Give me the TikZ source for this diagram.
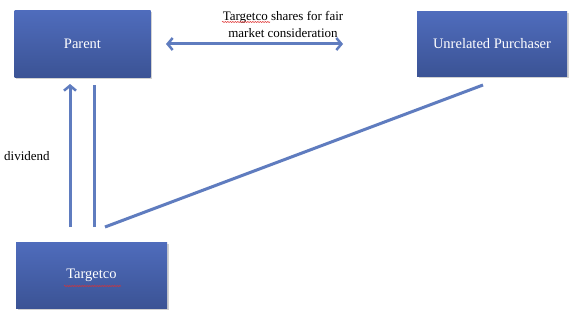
\documentclass[tikz,border=0pt]{standalone}
\usepackage{fontspec}
\setmainfont{Liberation Serif}
\usetikzlibrary{arrows.meta,shadows,decorations.pathmorphing}
\definecolor{boxtop}{HTML}{4F6CBC}
\definecolor{boxbot}{HTML}{3B5395}
\definecolor{arrowc}{HTML}{5F7CBF}
\definecolor{spell}{HTML}{E03030}
\tikzset{
  entity/.style={draw=none, top color=boxtop, bottom color=boxbot, text=white,
    font=\fontsize{14.5}{16}\selectfont, inner sep=0pt,
    drop shadow={shadow xshift=1.5pt, shadow yshift=-1.5pt, opacity=0.35}},
  conn/.style={draw=arrowc, line width=3pt},
  barb/.style={-{Straight Barb[length=5pt,width=12pt,line width=2.5pt]}},
  dbarb/.style={{Straight Barb[length=5pt,width=12pt,line width=2.5pt]}-{Straight Barb[length=5pt,width=12pt,line width=2.5pt]}},
  lbl/.style={font=\fontsize{13}{17}\selectfont, text=black, inner sep=0pt, align=center},
  squiggle/.style={draw=spell, line width=0.5pt, decorate, decoration={snake, amplitude=0.6pt, segment length=2.5pt}}
}
\begin{document}
\begin{tikzpicture}[x=1pt,y=-1pt]
\useasboundingbox (0,0) rectangle (580,329);
\fill[white] (0,0) rectangle (580,329);
\node[entity, minimum width=136pt, minimum height=66pt] (parent) at (82.5,44) {Parent};
\node[entity, minimum width=150pt, minimum height=64pt] (buyer) at (492,44) {Unrelated Purchaser};
\node[entity, minimum width=151pt, minimum height=66pt] (target) at (91.5,275) {Targetco};
\coordinate (lb) at (70,227);
\coordinate (lt) at (70,84);
\coordinate (rb) at (94,227);
\coordinate (rt) at (94,85);
\coordinate (db) at (105,227);
\coordinate (dt) at (483,85);
\coordinate (hl) at (166,44);
\coordinate (hr) at (343,44);
\draw[conn, barb] (lb) -- (lt);
\draw[conn] (rb) -- (rt);
\draw[conn] (db) -- (dt);
\draw[conn, dbarb] (hl) -- (hr);
\node[lbl] (deal) at (283,24) {Targetco shares for fair\\market consideration};
\node[lbl, anchor=west] (div) at (4,156) {dividend};
\coordinate (s1a) at (222,22);
\coordinate (s1b) at (270,22);
\draw[squiggle] (s1a) -- (s1b);
\coordinate (s2a) at (64,286);
\coordinate (s2b) at (121,286);
\draw[squiggle] (s2a) -- (s2b);
\end{tikzpicture}
\end{document}
